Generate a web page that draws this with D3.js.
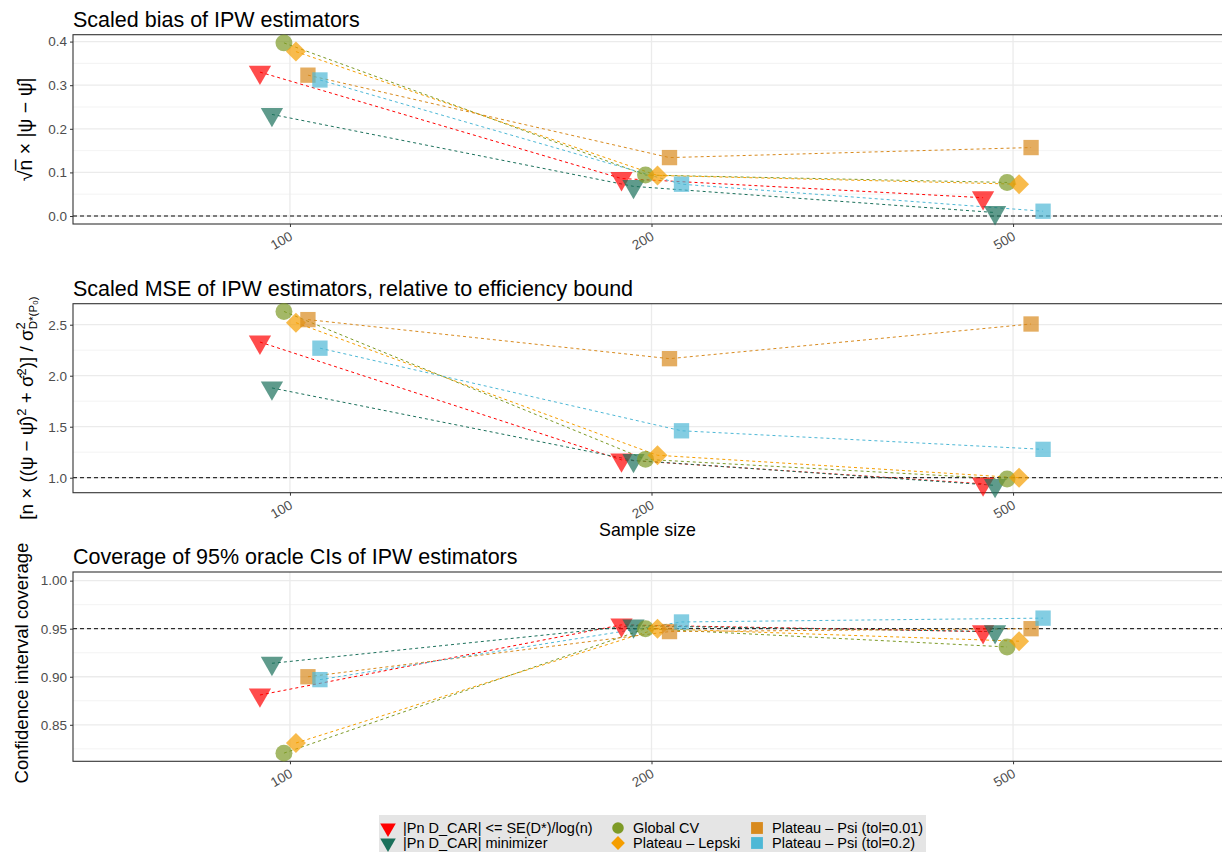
<!DOCTYPE html>
<html>
<head>
<meta charset="utf-8">
<script src="https://cdn.jsdelivr.net/npm/d3@7"></script>
<style>
  body { margin: 0; background: #fff; }
  svg { font-family: "Liberation Sans", Arial, sans-serif; }
  .tick-label { fill: #4d4d4d; font-size: 13.5px; }
  .panel-title { fill: #000; font-size: 21.5px; }
  .axis-title { fill: #000; font-size: 17.8px; }
  .legend-text { fill: #000; font-size: 14.5px; }
</style>
</head>
<body>
<script>
// sample sizes on the x axis (discrete)
const sampleSizes = ['100', '200', '500'];

const methodLabels = [
  '|Pn D_CAR| <= SE(D*)/log(n)',
  '|Pn D_CAR| minimizer',
  'Global CV',
  'Plateau \u2013 Lepski',
  'Plateau \u2013 Psi (tol=0.01)',
  'Plateau \u2013 Psi (tol=0.2)'
];
const methodShapes = ['triangleDown', 'triangleDown', 'circle', 'diamond', 'square', 'square'];
const methodColors = ['#FF0000', '#1B705B', '#7D9A26', '#F59E00', '#D88A1E', '#4EB8D6'];

// one row per method, one value per sample size
const scaledBias = [
  [0.330, 0.086, 0.042],
  [0.233, 0.068, 0.008],
  [0.397, 0.094, 0.077],
  [0.377, 0.093, 0.073],
  [0.323, 0.134, 0.157],
  [0.312, 0.073, 0.011]
];
const scaledMse = [
  [2.33, 1.175, 0.94],
  [1.88, 1.17, 0.925],
  [2.63, 1.18, 0.987],
  [2.52, 1.22, 1.00],
  [2.55, 2.167, 2.507],
  [2.27, 1.46, 1.278]
];
const coverage = [
  [0.881, 0.954, 0.947],
  [0.914, 0.953, 0.947],
  [0.8205, 0.950, 0.931],
  [0.831, 0.950, 0.937],
  [0.900, 0.947, 0.950],
  [0.897, 0.957, 0.961]
];

const biasTicks = [0.0, 0.1, 0.2, 0.3, 0.4];
const mseTicks = [1.0, 1.5, 2.0, 2.5];
const coverageTicks = [0.85, 0.90, 0.95, 1.00];

const svg = d3.select('body').append('svg')
  .attr('width', 1222)
  .attr('height', 852);

const symbolFor = (shape, big) => {
  if (shape === 'triangleDown') return d3.symbol().type(d3.symbolTriangle).size(big ? 215 : 105)();
  if (shape === 'circle') return d3.symbol().type(d3.symbolCircle).size(big ? 225 : 105)();
  if (shape === 'diamond') return d3.symbol().type(d3.symbolSquare).size(big ? 200 : 95)();
  return d3.symbol().type(d3.symbolSquare).size(big ? 235 : 140)();
};
const rotationFor = shape => shape === 'triangleDown' ? 180 : (shape === 'diamond' ? 45 : 0);

class DotPanel {
  constructor(_config, _rows) {
    this.config = _config;
    this.rows = _rows;
    this.initVis();
  }

  initVis() {
    let vis = this;
    const c = vis.config;

    vis.xScale = d3.scalePoint()
      .domain(sampleSizes)
      .range([c.left, c.right])
      .padding(0.6);
    vis.yScale = d3.scaleLinear()
      .domain(c.domain)
      .range([c.bottom, c.top]);

    vis.g = svg.append('g');

    // grid: minor then major
    const minor = [];
    for (let i = 0; i < c.ticks.length - 1; i++) minor.push((c.ticks[i] + c.ticks[i + 1]) / 2);
    const step = c.ticks[1] - c.ticks[0];
    minor.push(c.ticks[c.ticks.length - 1] + step / 2);
    minor.unshift(c.ticks[0] - step / 2);
    const dom = vis.yScale.domain();
    vis.g.selectAll('.minor').data(minor.filter(v => v > dom[0] && v < dom[1]))
      .join('line')
      .attr('x1', c.left).attr('x2', c.right)
      .attr('y1', d => vis.yScale(d)).attr('y2', d => vis.yScale(d))
      .attr('stroke', '#f0f0f0').attr('stroke-width', 0.8);
    vis.g.selectAll('.major').data(c.ticks)
      .join('line')
      .attr('x1', c.left).attr('x2', c.right)
      .attr('y1', d => vis.yScale(d)).attr('y2', d => vis.yScale(d))
      .attr('stroke', '#ebebeb').attr('stroke-width', 1.3);
    vis.g.selectAll('.vmajor').data(sampleSizes)
      .join('line')
      .attr('x1', d => vis.xScale(d)).attr('x2', d => vis.xScale(d))
      .attr('y1', c.top).attr('y2', c.bottom)
      .attr('stroke', '#ebebeb').attr('stroke-width', 1.3);

    // reference line
    vis.g.append('line')
      .attr('x1', c.left).attr('x2', c.right)
      .attr('y1', vis.yScale(c.refValue)).attr('y2', vis.yScale(c.refValue))
      .attr('stroke', c.refColor).attr('stroke-width', c.refWidth)
      .attr('stroke-dasharray', '4,3');

    // y axis
    const yAxis = d3.axisLeft(vis.yScale)
      .tickValues(c.ticks)
      .tickFormat(d3.format(c.format))
      .tickSize(3)
      .tickPadding(3);
    vis.g.append('g')
      .attr('transform', `translate(${c.left},0)`)
      .call(yAxis)
      .call(g => g.select('.domain').remove())
      .call(g => g.selectAll('line').attr('stroke', '#333'))
      .call(g => g.selectAll('text').attr('class', 'tick-label').attr('font-family', null).attr('font-size', null).attr('fill', null));

    // x axis
    const xAxis = d3.axisBottom(vis.xScale).tickSize(3).tickPadding(2);
    vis.g.append('g')
      .attr('transform', `translate(0,${c.bottom})`)
      .call(xAxis)
      .call(g => g.select('.domain').remove())
      .call(g => g.selectAll('line').attr('stroke', '#333'))
      .call(g => g.selectAll('text')
        .attr('class', 'tick-label').attr('font-family', null).attr('font-size', null).attr('fill', null)
        .attr('text-anchor', 'end')
        .attr('y', 0).attr('dy', 0)
        .attr('transform', 'translate(3,15) rotate(-30)'));

    // border
    vis.g.append('rect')
      .attr('x', c.left).attr('y', c.top)
      .attr('width', c.right - c.left).attr('height', c.bottom - c.top)
      .attr('fill', 'none').attr('stroke', '#333').attr('stroke-width', 1.1);

    // title
    vis.g.append('text')
      .attr('class', 'panel-title')
      .attr('x', c.left).attr('y', c.top - 8)
      .text(c.title);

    // y axis title
    const yt = vis.g.append('text')
      .attr('class', 'axis-title')
      .attr('text-anchor', 'middle')
      .attr('transform', `translate(${c.yTitleX}, ${c.yTitleY || (c.top + c.bottom) / 2}) rotate(-90)`);
    c.yTitle(yt);

    if (c.xTitle) {
      vis.g.append('text')
        .attr('class', 'axis-title')
        .attr('text-anchor', 'middle')
        .attr('x', (c.left + 1222) / 2)
        .attr('y', c.bottom + 43)
        .text(c.xTitle);
    }

    vis.renderVis();
  }

  renderVis() {
    let vis = this;
    const dodge = i => (i - 2.5) * 12;

    vis.series = vis.rows.map((vals, i) => ({
      i: i,
      points: vals.map((v, j) => ({ x: vis.xScale(sampleSizes[j]) + dodge(i), y: vis.yScale(v) }))
    }));

    const line = d3.line().x(d => d.x).y(d => d.y);

    vis.g.selectAll('.series-line')
      .data(vis.series)
      .join('path')
      .attr('class', 'series-line')
      .attr('d', d => line(d.points))
      .attr('fill', 'none')
      .attr('stroke', d => methodColors[d.i])
      .attr('stroke-width', 1)
      .attr('stroke-dasharray', '3,3');

    vis.g.selectAll('.series-pts')
      .data(vis.series)
      .join('g')
      .attr('class', 'series-pts')
      .selectAll('path')
      .data(d => d.points.map(p => ({ ...p, i: d.i })))
      .join('path')
      .attr('d', d => symbolFor(methodShapes[d.i], true))
      .attr('transform', d => `translate(${d.x},${d.y}) rotate(${rotationFor(methodShapes[d.i])})`)
      .attr('fill', d => methodColors[d.i])
      .attr('fill-opacity', 0.7);
  }
}

const panelLeft = 73, panelRight = 1230;

new DotPanel({
  title: 'Scaled bias of IPW estimators',
  left: panelLeft, right: panelRight, top: 34.7, bottom: 224,
  domain: [-0.0183, 0.4158],
  ticks: biasTicks, format: '.1f',
  refValue: 0, refColor: '#555', refWidth: 1.5,
  yTitleX: 32,
  yTitle: t => {
    t.style('font-size', '19.5px')
      .append('tspan').text('\u221An\u0305 \u00D7  |\u03C8 \u2212 \u03C8\u0302|');
  }
}, scaledBias);

new DotPanel({
  title: 'Scaled MSE of IPW estimators, relative to efficiency bound',
  left: panelLeft, right: panelRight, top: 303.7, bottom: 492.7,
  domain: [0.853, 2.706],
  ticks: mseTicks, format: '.1f',
  refValue: 1, refColor: '#000', refWidth: 1,
  yTitleX: 33, yTitleY: 408,
  xTitle: 'Sample size',
  yTitle: t => {
    t.style('font-size', '18.8px');
    t.append('tspan').text('[n \u00D7 ((\u03C8 \u2212 \u03C8\u0302)');
    t.append('tspan').attr('dy', -7).attr('font-size', 13).text('2');
    t.append('tspan').attr('dy', 7).text(' + \u03C3\u0302');
    t.append('tspan').attr('dy', -7).attr('font-size', 13).text('2');
    t.append('tspan').attr('dy', 7).text(')] / \u03C3');
    t.append('tspan').attr('dy', -8).attr('font-size', 13).text('2');
    t.append('tspan').attr('dx', -7).attr('dy', 12).attr('font-size', 11.5).text('D*(P\u2080)');
  }
}, scaledMse);

new DotPanel({
  title: 'Coverage of 95% oracle CIs of IPW estimators',
  left: panelLeft, right: panelRight, top: 572, bottom: 761.3,
  domain: [0.812, 1.009],
  ticks: coverageTicks, format: '.2f',
  refValue: 0.95, refColor: '#000', refWidth: 1,
  yTitleX: 28, yTitleY: 663,
  yTitle: t => t.text('Confidence interval coverage').style('font-size', '18.6px')
}, coverage);

// legend
const legend = svg.append('g');
legend.append('rect')
  .attr('x', 379).attr('y', 815).attr('width', 547).attr('height', 40)
  .attr('fill', '#e5e5e5');

const legendCols = [388, 618, 757];
const legendRows = [828, 843];
methodLabels.forEach((label, i) => {
  const cx = legendCols[Math.floor(i / 2)];
  const cy = legendRows[i % 2];
  legend.append('path')
    .attr('d', symbolFor(methodShapes[i], false))
    .attr('transform', `translate(${cx},${cy}) rotate(${rotationFor(methodShapes[i])})`)
    .attr('fill', methodColors[i]);
  legend.append('text')
    .attr('class', 'legend-text')
    .attr('x', cx + 15).attr('y', cy + 5)
    .text(label);
});
</script>
</body>
</html>
